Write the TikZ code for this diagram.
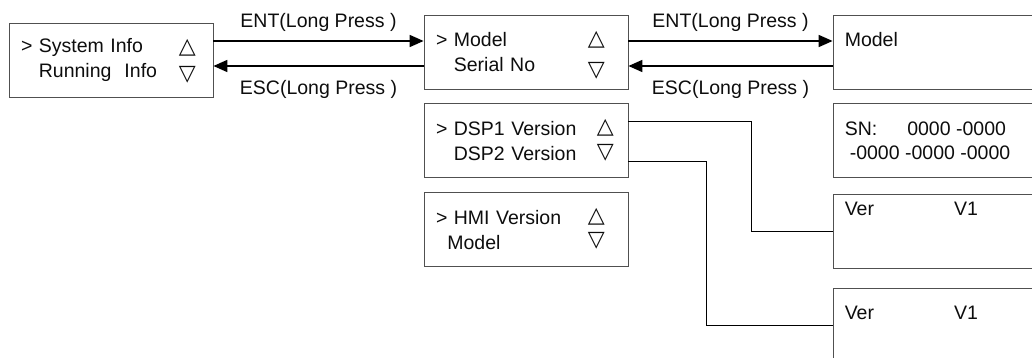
\documentclass[tikz,border=0pt]{standalone}
\usepackage{fontspec}
\setmainfont{Liberation Sans}
\newfontfamily\symfont{DejaVu Sans}
\usetikzlibrary{arrows.meta,positioning}
\definecolor{boxgray}{HTML}{505050}
\definecolor{darktext}{HTML}{0D0D0D}
\tikzset{
  menubox/.style={draw=boxgray,line width=0.8pt,text width=180pt,inner xsep=12pt,minimum height=74pt,align=left,font=\fontsize{19.5}{25}\selectfont\color{darktext}},
  screenbox/.style={draw=boxgray,line width=0.8pt,minimum width=210pt,minimum height=74pt},
  screentext/.style={anchor=west,inner sep=0pt,align=left,font=\fontsize{19.5}{24}\selectfont\color{darktext}},
  updown/.style={inner sep=0pt,font=\symfont\fontsize{22}{22}\selectfont\color{darktext}},
  arrow/.style={-{Triangle[length=14pt,width=12pt]},line width=1.6pt},
  link/.style={line width=1.4pt},
  presslabel/.style={font=\fontsize{19.5}{19.5}\selectfont\color{darktext}}
}

\begin{document}
\begin{tikzpicture}[x=1pt,y=-1pt]
\clip (0,0) rectangle (1032,358);
% menu screens
\node[menubox] (sysmenu) at (111,60) {> System Info\\\phantom{> }Running\ \ Info};
\node[menubox] (modelmenu) at (526,52) {> Model\\\phantom{> }Serial No};
\node[menubox,below=14pt of modelmenu] (dspmenu) {> DSP1 Version\\\phantom{> }DSP2 Version};
\node[menubox,below=14pt of dspmenu] (hmimenu) {> HMI Version\\\phantom{>}Model};
\node[updown] (sysup) at ([xshift=-26pt,yshift=12pt]sysmenu.east) {△};
\node[updown] (sysdown) at ([xshift=-26pt,yshift=-15pt]sysmenu.east) {▽};
\node[updown] (modelup) at ([xshift=-32pt,yshift=12pt]modelmenu.east) {△};
\node[updown] (modeldown) at ([xshift=-32pt,yshift=-19pt]modelmenu.east) {▽};
\node[updown] (dspup) at ([xshift=-23pt,yshift=13pt]dspmenu.east) {△};
\node[updown] (dspdown) at ([xshift=-23pt,yshift=-12pt]dspmenu.east) {▽};
\node[updown] (hmiup) at ([xshift=-32pt,yshift=13pt]hmimenu.east) {△};
\node[updown] (hmidown) at ([xshift=-32pt,yshift=-11pt]hmimenu.east) {▽};

% value screens
\node[screenbox] (modelscr) at (938,52) {};
\node[screenbox,below=14pt of modelscr] (snscr) {};
\node[screenbox,below=16pt of snscr] (dsp1scr) {};
\node[screenbox,below=19pt of dsp1scr] (dsp2scr) {};
\node[screentext] (modeltxt) at ([xshift=12pt,yshift=-25pt]modelscr.north west) {Model};
\node[screentext] (sntxt) at ([xshift=12pt]snscr.west) {SN:\hspace{30pt}0000 -0000\\\hspace*{5pt}-0000 -0000 -0000};
\node[screentext] (dsp1txt) at ([xshift=12pt,yshift=-15pt]dsp1scr.north west) {Ver\hspace{80pt}V1};
\node[screentext] (dsp2txt) at ([xshift=12pt,yshift=-25pt]dsp2scr.north west) {Ver\hspace{80pt}V1};

% long press arrows
\coordinate (ent1start) at ([yshift=19pt]sysmenu.east);
\coordinate (esc1start) at ([yshift=-14pt]modelmenu.west);
\coordinate (ent2start) at ([yshift=11pt]modelmenu.east);
\coordinate (esc2start) at ([yshift=-14pt]modelscr.west);
\draw[arrow] (ent1start) -- (ent1start -| modelmenu.west) node[presslabel,midway,yshift=19pt] (ent1) {ENT(Long Press )};
\draw[arrow] (esc1start) -- (esc1start -| sysmenu.east) node[presslabel,midway,yshift=-23pt] (esc1) {ESC(Long Press )};
\draw[arrow] (ent2start) -- (ent2start -| modelscr.west) node[presslabel,midway,yshift=19pt] (ent2) {ENT(Long Press )};
\draw[arrow] (esc2start) -- (esc2start -| modelmenu.east) node[presslabel,midway,yshift=-23pt] (esc2) {ESC(Long Press )};

% version links
\draw[link] ([yshift=19pt]dspmenu.east) -- ++(123,0) |- (dsp1scr.west);
\draw[link] ([yshift=-21pt]dspmenu.east) -- ++(78,0) |- (dsp2scr.west);
\end{tikzpicture}
\end{document}
